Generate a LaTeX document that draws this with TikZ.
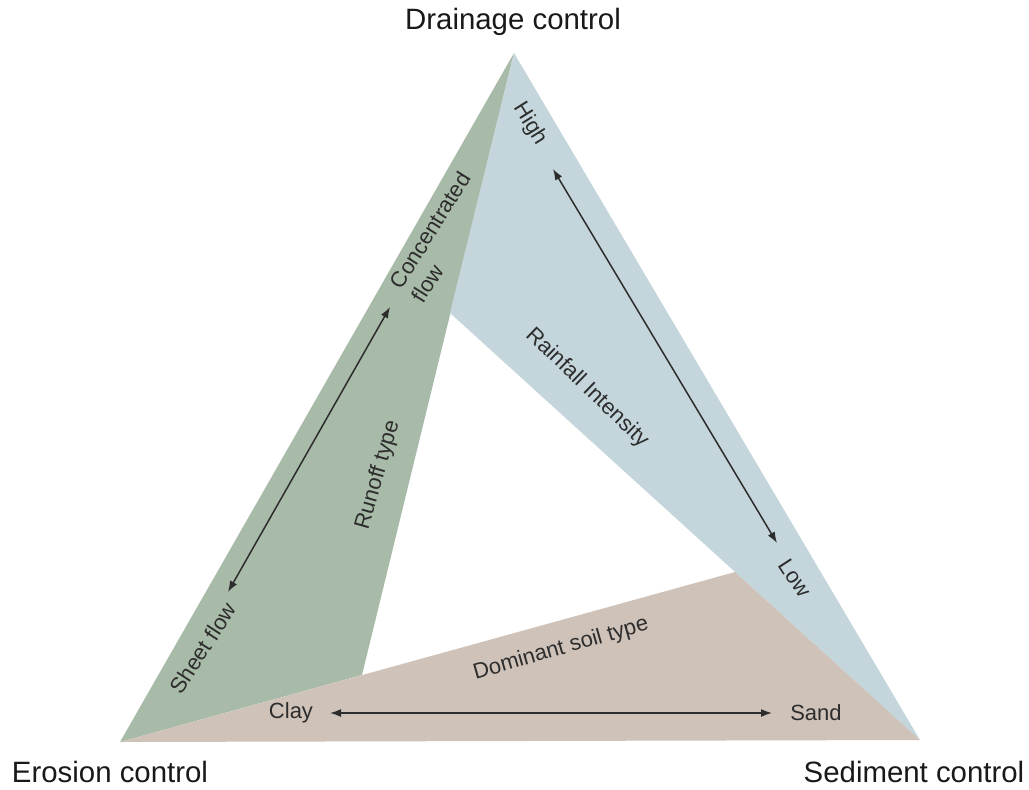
\documentclass[tikz,border=0pt]{standalone}
\usepackage{fontspec}
\setmainfont{Liberation Sans}
\usetikzlibrary{arrows.meta}
\definecolor{runoff}{RGB}{168,187,169}
\definecolor{rain}{RGB}{196,214,220}
\definecolor{soil}{RGB}{207,194,185}
\definecolor{ink}{RGB}{45,45,45}

\begin{document}
\begin{tikzpicture}[x=0.5pt,y=-0.5pt,>={Latex[length=5.5pt,width=4pt]},every node/.style={font=\fontsize{11}{13}\selectfont,text=ink,inner sep=0pt}]
\tikzstyle{corner}=[font=\fontsize{14.7}{17}\selectfont,text=black!90]
\tikzstyle{axis}=[<->,line width=0.75pt,draw=ink]
\useasboundingbox (0,0) rectangle (1029,789);
% outer corners and inner points of the three wedges
\coordinate (top) at (514,53);
\coordinate (bl) at (120,742);
\coordinate (br) at (920,740);
\coordinate (gin) at (362,675);
\coordinate (bin) at (450,313);
\coordinate (sin) at (735,572);
\fill[runoff] (top)--(bl)--(gin)--cycle;
\fill[rain] (top)--(br)--(bin)--cycle;
\fill[soil] (bl)--(br)--(sin)--cycle;
% corner titles
\node[corner] (drain) at (513,22) {Drainage control};
\node[corner] (eros) at (110,772) {Erosion control};
\node[corner] (sedi) at (914,772) {Sediment control};
% runoff type
\coordinate (cf) at (390,307);
\coordinate (sf) at (228,592);
\draw[axis] (cf)--(sf);
\node[rotate=58,align=left] (conc) at (441,237) {Concentrated\\flow};
\node[rotate=57] (sheet) at (203,648) {Sheet flow};
\node[rotate=74] (runt) at (378,475) {Runoff type};
% rainfall intensity
\coordinate (hi) at (553,169);
\coordinate (lo) at (777,543);
\draw[axis] (hi)--(lo);
\node[rotate=-58] (high) at (530,124) {High};
\node[rotate=-57] (low) at (795,578) {Low};
\node[rotate=-44] (rint) at (587,388) {Rainfall Intensity};
% dominant soil type
\coordinate (cl) at (330,713);
\coordinate (sd) at (772,713);
\draw[axis] (cl)--(sd);
\node (clay) at (291,713) {Clay};
\node (sand) at (816,713) {Sand};
\node[rotate=16] (dsoil) at (561,649) {Dominant soil type};
\end{tikzpicture}
\end{document}
